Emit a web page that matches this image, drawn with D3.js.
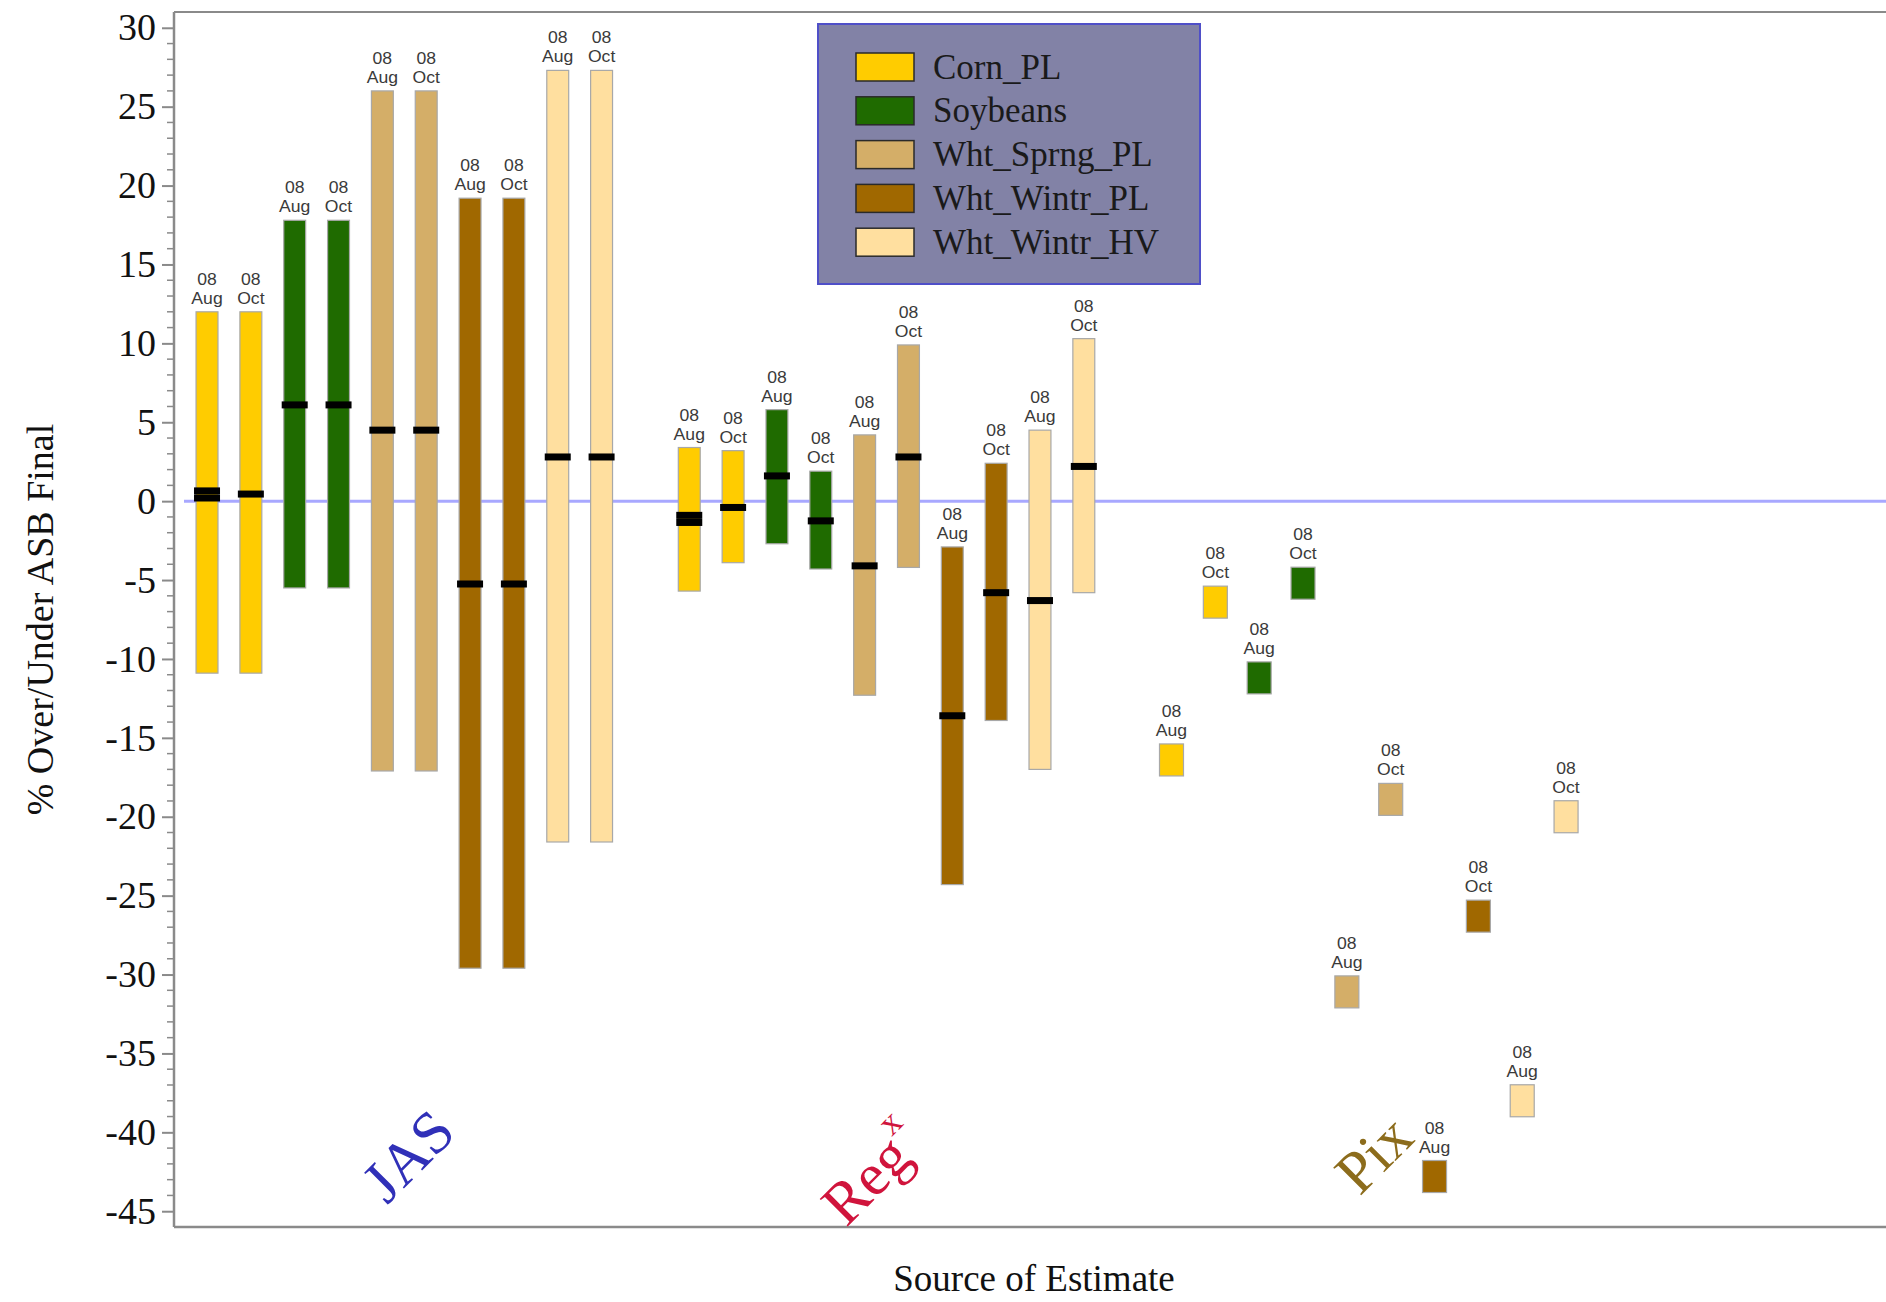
<!DOCTYPE html>
<html>
<head>
<meta charset="utf-8">
<script src="https://cdn.jsdelivr.net/npm/d3@7"></script>
<style>
  html, body { margin: 0; padding: 0; background: #fff; }
  svg { display: block; }
</style>
</head>
<body>
<svg id="chart" width="1886" height="1302"></svg>
<script>
// Crops and their fill colours
const crops = ["Corn_PL", "Soybeans", "Wht_Sprng_PL", "Wht_Wintr_PL", "Wht_Wintr_HV"];
const cropColors = ["#FFCC00", "#1F6B00", "#D4AE68", "#A06800", "#FFDF9F"];

// Forecast months shown for every crop
const months = ["Aug", "Oct"];
const yearLabel = "08";

// Sources of estimate
const sources = ["JAS", "Reg", "Pix"];
const sourceColors = ["#3030B8", "#D0143C", "#8C6C1C"];

// JAS ranges (order: crop x month)
const jasHigh = [12.0, 12.0, 17.8, 17.8, 26.0, 26.0, 19.2, 19.2, 27.3, 27.3];
const jasLow  = [-10.9, -10.9, -5.5, -5.5, -17.1, -17.1, -29.6, -29.6, -21.6, -21.6];
const jasMark = [[0.2, 0.65], [0.45], [6.1], [6.1], [4.5], [4.5], [-5.25], [-5.25], [2.8], [2.8]];

// Regression ranges
const regHigh = [3.4, 3.2, 5.8, 1.9, 4.2, 9.9, -2.9, 2.4, 4.5, 10.3];
const regLow  = [-5.7, -3.9, -2.7, -4.3, -12.3, -4.2, -24.3, -13.9, -17.0, -5.8];
const regMark = [[-0.9, -1.35], [-0.4], [1.6], [-1.25], [-4.1], [2.8], [-13.6], [-5.8], [-6.3], [2.2]];

// Pixel-based point estimates
const pixValue = [-16.4, -6.4, -11.2, -5.2, -31.1, -18.9, -42.8, -26.3, -38.0, -20.0];

// Axis ticks
const yTicks = [30, 25, 20, 15, 10, 5, 0, -5, -10, -15, -20, -25, -30, -35, -40, -45];
const yDomain = [-46, 31];

const svg = d3.select("#chart");
const plot = { left: 174, right: 1886, top: 12, bottom: 1227 };
const serif = "'Liberation Serif', 'Times New Roman', serif";

// Slots: 10 per source plus one empty slot between sources
const slotKeys = [];
sources.forEach((s, si) => {
  crops.forEach(c => months.forEach(m => slotKeys.push(`${s}|${c}|${m}`)));
  if (si < sources.length - 1) slotKeys.push(`gap${si}`);
});

const x = d3.scaleBand()
  .domain(slotKeys)
  .range([185.1, 185.1 + 32 * 43.84])
  .paddingInner(0.5)
  .paddingOuter(0.25);

const y = d3.scaleLinear().domain(yDomain).range([plot.bottom, plot.top]);

// Build records
function rows(source, highs, lows, marks) {
  const out = [];
  crops.forEach((c, ci) => months.forEach((m, mi) => {
    const i = ci * 2 + mi;
    out.push({ source, crop: c, ci, month: m, key: `${source}|${c}|${m}`,
      high: highs ? highs[i] : null, low: lows ? lows[i] : null,
      marks: marks ? marks[i] : [] });
  }));
  return out;
}
const jasRows = rows("JAS", jasHigh, jasLow, jasMark);
const regRows = rows("Reg", regHigh, regLow, regMark);
const pixRows = rows("Pix", null, null, null).map((d, i) => ({ ...d, value: pixValue[i] }));

// Frame
const frame = svg.append("g");
frame.append("line").attr("x1", plot.left).attr("x2", plot.right)
  .attr("y1", plot.top).attr("y2", plot.top)
  .attr("stroke", "#8a8a8a").attr("stroke-width", 2);
frame.append("line").attr("x1", plot.left).attr("x2", plot.right)
  .attr("y1", plot.bottom).attr("y2", plot.bottom)
  .attr("stroke", "#8a8a8a").attr("stroke-width", 2.5);

// Zero reference line
svg.append("line")
  .attr("x1", plot.left + 10).attr("x2", plot.right)
  .attr("y1", y(0)).attr("y2", y(0))
  .attr("stroke", "#A8A8FF").attr("stroke-width", 3);

// Y axis: minor ticks every unit, labelled majors every 5
const minorTicks = d3.range(yDomain[0] + 1, 31, 1).filter(v => v % 5 !== 0);
const yAxisG = svg.append("g").attr("transform", `translate(${plot.left},0)`);
yAxisG.append("line").attr("x1", 0).attr("x2", 0)
  .attr("y1", plot.top).attr("y2", plot.bottom)
  .attr("stroke", "#8a8a8a").attr("stroke-width", 2.5);
yAxisG.selectAll("line.minor").data(minorTicks).join("line")
  .attr("class", "minor")
  .attr("x1", -7).attr("x2", 0)
  .attr("y1", d => y(d)).attr("y2", d => y(d))
  .attr("stroke", "#8a8a8a").attr("stroke-width", 1.5);
const yAxis = d3.axisLeft(y).tickValues(yTicks).tickSize(12).tickPadding(6)
  .tickFormat(d => String(d));
const yAxisMajor = svg.append("g").attr("transform", `translate(${plot.left},0)`).call(yAxis);
yAxisMajor.select(".domain").remove();
yAxisMajor.selectAll(".tick line").attr("stroke", "#8a8a8a").attr("stroke-width", 2);
yAxisMajor.selectAll(".tick text")
  .attr("font-family", serif)
  .attr("font-size", 38).attr("fill", "#111");

// Axis titles
svg.append("text")
  .attr("transform", `translate(40,${(y(30) + y(-45)) / 2}) rotate(-90)`)
  .attr("text-anchor", "middle").attr("dominant-baseline", "central")
  .attr("font-family", serif)
  .attr("font-size", 38).attr("fill", "#111")
  .text("% Over/Under ASB Final");
svg.append("text")
  .attr("x", 1034).attr("y", 1291)
  .attr("text-anchor", "middle")
  .attr("font-family", serif)
  .attr("font-size", 37).attr("fill", "#111")
  .text("Source of Estimate");

// Range bars for JAS and Reg
const bw = x.bandwidth();
const rangeRows = jasRows.concat(regRows);
const barsG = svg.append("g");
barsG.selectAll("rect.range").data(rangeRows).join("rect")
  .attr("class", "range")
  .attr("x", d => x(d.key))
  .attr("width", bw)
  .attr("y", d => y(d.high))
  .attr("height", d => y(d.low) - y(d.high))
  .attr("fill", d => cropColors[d.ci])
  .attr("stroke", "#a8a8a8").attr("stroke-width", 1.2);

// Black marks inside the ranges
const markData = rangeRows.flatMap(d => d.marks.map(v => ({ key: d.key, v })));
barsG.selectAll("rect.mark").data(markData).join("rect")
  .attr("class", "mark")
  .attr("x", d => x(d.key) + bw / 2 - 13)
  .attr("width", 26)
  .attr("y", d => y(d.v) - 3.5)
  .attr("height", 7)
  .attr("fill", "#000");

// Pix point estimates as small blocks
const pixW = 24, pixH = 32;
barsG.selectAll("rect.pix").data(pixRows).join("rect")
  .attr("class", "pix")
  .attr("x", d => x(d.key) + bw / 2 - pixW / 2)
  .attr("width", pixW)
  .attr("y", d => y(d.value) - pixH / 2)
  .attr("height", pixH)
  .attr("fill", d => cropColors[d.ci])
  .attr("stroke", "#a8a8a8").attr("stroke-width", 1.2);

// Two-line month labels above each mark
const labelData = rangeRows.map(d => ({ key: d.key, month: d.month, top: y(d.high) }))
  .concat(pixRows.map(d => ({ key: d.key, month: d.month, top: y(d.value) - pixH / 2 })));
const lbl = svg.append("g")
  .attr("font-family", "'Liberation Sans', Arial, sans-serif")
  .attr("font-size", 16).attr("fill", "#3a3a3a")
  .attr("text-anchor", "middle");
const lblText = lbl.selectAll("text").data(labelData).join("text")
  .attr("transform", d => `translate(${x(d.key) + bw / 2},${d.top - 8}) scale(1.1,1.08)`);
lblText.append("tspan").attr("x", 0).attr("y", -17.5).text(yearLabel);
lblText.append("tspan").attr("x", 0).attr("y", 0).text(d => d.month);

// Source labels along the bottom
const groupCenter = s => {
  const keys = slotKeys.filter(k => k.startsWith(s + "|"));
  return (x(keys[0]) + x(keys[keys.length - 1]) + bw) / 2;
};
const srcG = svg.append("g")
  .attr("font-family", serif)
  .attr("font-size", 60);
const srcOffsets = [{ dx: 4, v: -41.5 }, { dx: -14, v: -42.6 }, { dx: 5, v: -41.4 }];
sources.forEach((s, i) => {
  const t = srcG.append("text")
    .attr("transform", `translate(${groupCenter(s) + srcOffsets[i].dx},${y(srcOffsets[i].v)}) rotate(-45)`)
    .attr("text-anchor", "middle").attr("dominant-baseline", "central")
    .attr("fill", sourceColors[i]);
  if (s === "Reg") {
    t.append("tspan").text("Reg");
    t.append("tspan").attr("font-size", 36).attr("dy", -24).text("x");
  } else {
    t.text(s);
  }
});

// Legend
const legend = svg.append("g").attr("transform", "translate(818,24)");
legend.append("rect").attr("width", 382).attr("height", 260)
  .attr("fill", "#8282A6").attr("stroke", "#4F4FC8").attr("stroke-width", 2);
const li = legend.selectAll("g.item").data(crops).join("g")
  .attr("class", "item")
  .attr("transform", (d, i) => `translate(38,${29 + i * 43.8})`);
li.append("rect").attr("width", 58).attr("height", 28)
  .attr("fill", (d, i) => cropColors[i]).attr("stroke", "#2a2a2a").attr("stroke-width", 1.5);
li.append("text").attr("x", 77).attr("y", 14)
  .attr("dominant-baseline", "central")
  .attr("font-family", serif)
  .attr("font-size", 35).attr("fill", "#1a1a1a")
  .text(d => d);
</script>
</body>
</html>
